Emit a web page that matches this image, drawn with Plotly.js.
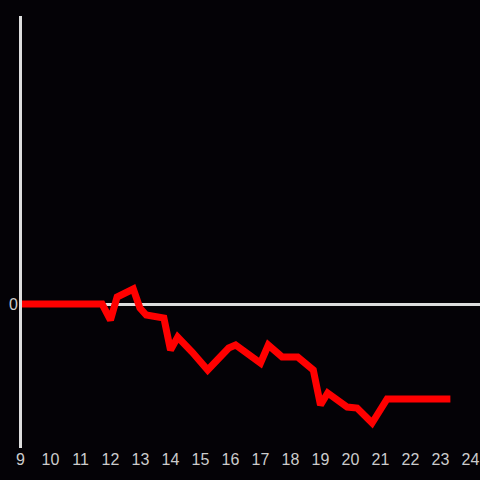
<!DOCTYPE html>
<html>
<head>
<meta charset="utf-8">
<script src="https://cdn.plot.ly/plotly-3.0.1.min.js"></script>
<style>html,body{margin:0;padding:0;background:#040206;}#chart{width:480px;height:480px;}</style>
</head>
<body>
<div id="chart"></div>
<script>
var xValues = [9.0, 11.72, 12.0, 12.22, 12.76, 12.98, 13.19, 13.78, 14.0, 14.24, 14.72, 15.24, 15.94, 16.17, 17.0, 17.26, 17.72, 18.24, 18.76, 19.0, 19.24, 19.72, 19.89, 20.22, 20.72, 21.22, 23.33];
var yValues = [0, 0, -0.16, 0.07, 0.15, -0.04, -0.11, -0.14, -0.46, -0.33, -0.48, -0.66, -0.44, -0.41, -0.59, -0.41, -0.53, -0.53, -0.66, -1.01, -0.89, -1.01, -1.03, -1.04, -1.19, -0.95, -0.95];
var xTicks = [9, 10, 11, 12, 13, 14, 15, 16, 17, 18, 19, 20, 21, 22, 23, 24];
var yTicks = [0];

var tickFont = {color: '#cccccc', size: 16, family: 'Liberation Sans, Arial, sans-serif'};

Plotly.newPlot('chart', [{
  x: xValues, y: yValues, type: 'scatter', mode: 'lines',
  line: {color: '#ff0000', width: 7}, hoverinfo: 'none'
}], {
  width: 480, height: 480,
  paper_bgcolor: '#040206', plot_bgcolor: '#040206',
  margin: {l: 19, r: 0, t: 16, b: 32},
  showlegend: false,
  font: tickFont,
  xaxis: {range: [8.95, 24.317], tickvals: xTicks, ticktext: xTicks.map(String), tickfont: tickFont, showgrid: false, zeroline: false, showline: false, ticks: ''},
  yaxis: {range: [-1.44, 2.88], tickvals: yTicks, ticktext: ['0'], tickfont: tickFont, showgrid: false, zeroline: true, zerolinecolor: '#dddddd', zerolinewidth: 3, showline: false, ticks: ''},
  shapes: [{type: 'line', xref: 'x', yref: 'paper', x0: 9, x1: 9, y0: 0, y1: 1, layer: 'above', line: {color: '#dddddd', width: 3}}]
}, {displayModeBar: false, staticPlot: true});
</script>
</body>
</html>
